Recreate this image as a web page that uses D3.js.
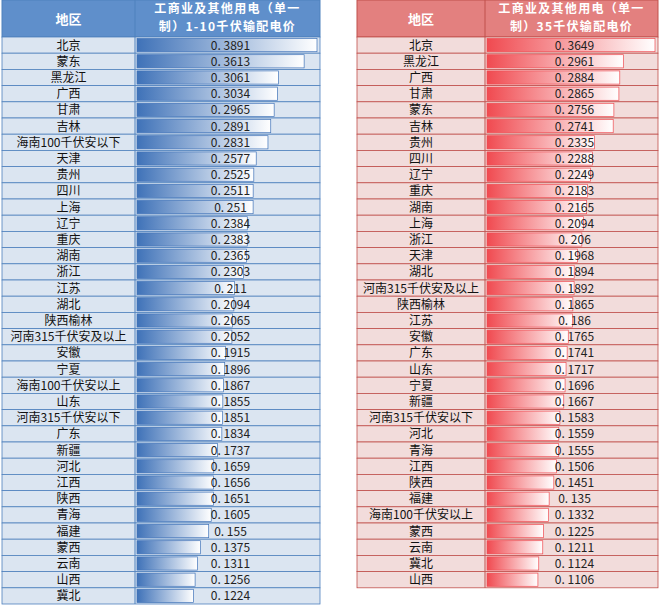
<!DOCTYPE html><html><head><meta charset="utf-8"><script src="https://cdn.jsdelivr.net/npm/d3@7"></script>
<style>body{margin:0;background:#fff}svg{display:block}</style></head><body><svg id="c" width="660" height="606"></svg><script>
const leftRegions=["北京","蒙东","黑龙江","广西","甘肃","吉林","海南100千伏安以下","天津","贵州","四川","上海","辽宁","重庆","湖南","浙江","江苏","湖北","陕西榆林","河南315千伏安及以上","安徽","宁夏","海南100千伏安以上","山东","河南315千伏安以下","广东","新疆","河北","江西","陕西","青海","福建","蒙西","云南","山西","冀北"];
const leftValues=[0.3891,0.3613,0.3061,0.3034,0.2965,0.2891,0.2831,0.2577,0.2525,0.2511,0.251,0.2384,0.2383,0.2365,0.2303,0.211,0.2094,0.2065,0.2052,0.1915,0.1896,0.1867,0.1855,0.1851,0.1834,0.1737,0.1659,0.1656,0.1651,0.1605,0.155,0.1375,0.1311,0.1256,0.1224];
const rightRegions=["北京","黑龙江","广西","甘肃","蒙东","吉林","贵州","四川","辽宁","重庆","湖南","上海","浙江","天津","湖北","河南315千伏安及以上","陕西榆林","江苏","安徽","广东","山东","宁夏","新疆","河南315千伏安以下","河北","青海","江西","陕西","福建","海南100千伏安以上","蒙西","云南","冀北","山西"];
const rightValues=[0.3649,0.2961,0.2884,0.2865,0.2756,0.2741,0.2335,0.2288,0.2249,0.2183,0.2165,0.2094,0.206,0.1968,0.1894,0.1892,0.1865,0.186,0.1765,0.1741,0.1717,0.1696,0.1667,0.1583,0.1559,0.1555,0.1506,0.1451,0.135,0.1332,0.1225,0.1211,0.1124,0.1106];
const svg=d3.select("#c"),defs=svg.append("defs");
function table(o){
 const {x0,x1,xd,regions,values,hdr,rowbg,border,bar,id,hl}=o;
 const hh=37,rh=16.2;
 const y=i=>hh+i*rh;
 const g=svg.append("g");
 const gr=defs.append("linearGradient").attr("id",id);
 gr.append("stop").attr("offset","0%").attr("stop-color",bar);
 gr.append("stop").attr("offset","100%").attr("stop-color","#fff");
 g.append("rect").attr("x",x0).attr("y",0).attr("width",x1-x0).attr("height",hh).attr("fill",hdr).attr("stroke",border);
 g.append("line").attr("x1",xd).attr("x2",xd).attr("y1",0).attr("y2",hh).attr("stroke",border);
 g.append("text").attr("x",(x0+xd)/2).attr("y",hh/2+5).attr("text-anchor","middle").attr("fill","#fff").attr("font-weight","bold").attr("font-size",13).attr("font-family","Noto Sans CJK SC").text("地区");
 hl.forEach((t,k)=>g.append("text").attr("x",(xd+x1)/2).attr("y",13+k*18).attr("text-anchor","middle").attr("fill","#fff").attr("font-weight","bold").attr("font-size",12).attr("letter-spacing",1.3).attr("font-family","Noto Sans CJK SC").text(t));
 const xs=d3.scaleLinear().domain([0,d3.max(values)]).range([xd+2,x1-3]);
 const rows=g.selectAll("g.r").data(regions).join("g");
 rows.append("rect").attr("x",x0).attr("y",(d,i)=>y(i)).attr("width",x1-x0).attr("height",rh).attr("fill",rowbg).attr("stroke",border).attr("stroke-width",0.8);
 rows.append("line").attr("x1",xd).attr("x2",xd).attr("y1",(d,i)=>y(i)).attr("y2",(d,i)=>y(i)+rh).attr("stroke",border);
 rows.append("rect").attr("x",xs(0)).attr("y",(d,i)=>y(i)+1.5).attr("width",(d,i)=>xs(values[i])-xs(0)).attr("height",rh-3).attr("fill",`url(#${id})`).attr("stroke",bar).attr("stroke-width",0.7);
 rows.append("text").attr("x",(x0+xd)/2).attr("y",(d,i)=>y(i)+rh/2+4.5).attr("text-anchor","middle").attr("font-size",12).attr("font-family","Noto Sans CJK SC").attr("fill","#111").text(d=>d);
 rows.append("text").attr("x",(xd+x1)/2+3).attr("y",(d,i)=>y(i)+rh/2+4.5).attr("text-anchor","middle").attr("font-size",12).attr("font-family","Noto Sans CJK SC").attr("fill","#222").text((d,i)=>"0. "+String(values[i]).slice(2));
}
table({x0:2,x1:320,xd:135,regions:leftRegions,values:leftValues,hdr:"#5f8fcb",rowbg:"#dbe5f1",border:"#4f81bd",bar:"#3f72b8",id:"gb",hl:["工商业及其他用电（单一","制）1-10千伏输配电价"]});
table({x0:357,x1:658,xd:485,regions:rightRegions,values:rightValues,hdr:"#e3807f",rowbg:"#f2dcdb",border:"#c0504d",bar:"#f04a50",id:"gr",hl:["工商业及其他用电（单一","制）35千伏输配电价"]});
</script></body></html>
